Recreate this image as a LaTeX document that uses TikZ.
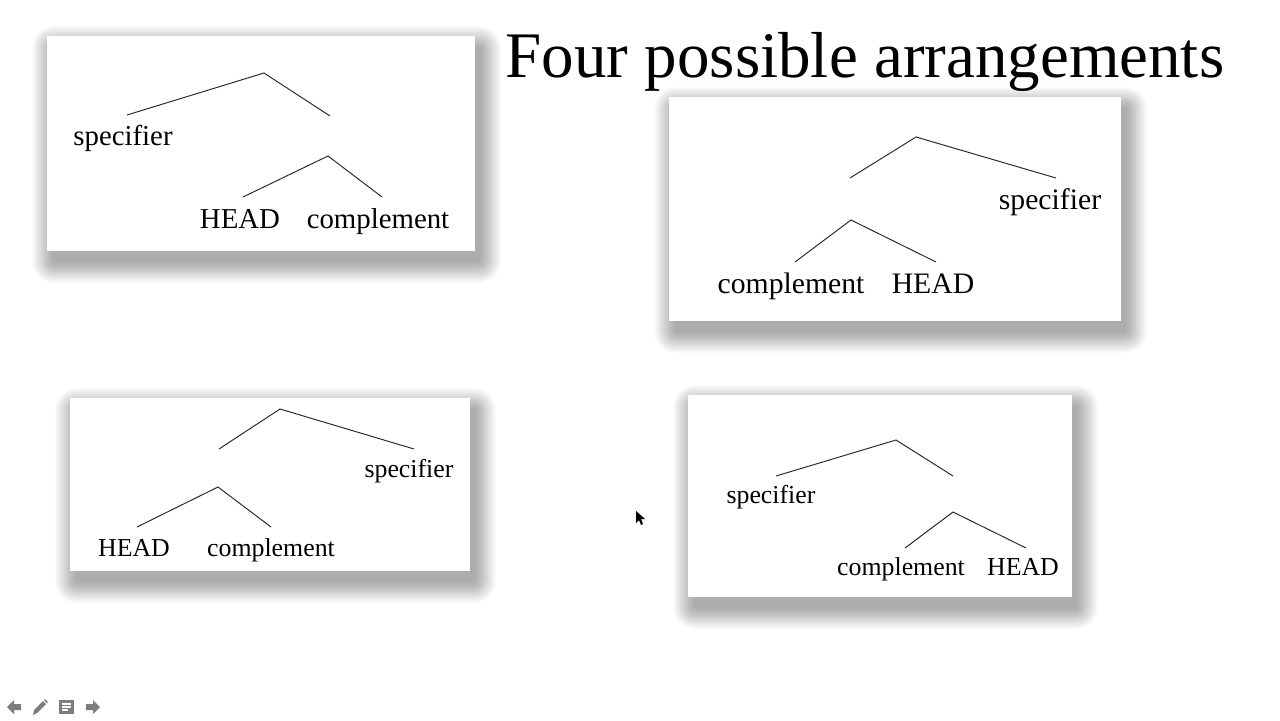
\documentclass[tikz,border=0pt]{standalone}
\usepackage{fontspec}
\setmainfont{Liberation Serif}
\definecolor{iconfill}{RGB}{125,125,125}
\definecolor{linecolor}{RGB}{40,40,40}
\tikzset{
    panel/.style={fill=white, draw=none},
    shadowlayer/.style={fill=black, draw=none, fill opacity=0.015},
    branch/.style={draw=linecolor, line width=0.55pt},
    word/.style={anchor=base, inner sep=0pt, text=black},
    bigword/.style={word, font=\fontsize{16.4}{18}\selectfont},
    midword/.style={word, font=\fontsize{16.9}{18}\selectfont},
    smallword/.style={word, font=\fontsize{14.7}{17}\selectfont},
    title/.style={anchor=base, inner sep=0pt, font=\fontsize{37}{40}\selectfont},
    icon/.style={fill=iconfill, draw=none}
}

\begin{document}
\begin{tikzpicture}[x=0.02cm, y=-0.02cm]
\useasboundingbox[fill=white] (0,0) rectangle (1280,720);

% Title
\node[title] (heading) at (865,77) {Four possible arrangements};

% Panels with soft shadows
\foreach \xa/\ya/\xb/\yb in {47/36/475/251, 669/97/1121/321, 70/398/470/571, 688/395/1072/597} {
    \foreach \r in {1,...,22} {
        \pgfmathsetmacro\rad{\r*0.567}
        \path[shadowlayer, rounded corners=\rad pt]
            (\xa-\r+7,\ya-\r+12) rectangle (\xb+\r+4,\yb+\r+10);
    }
    \path[panel] (\xa,\ya) rectangle (\xb,\yb);
}

% Tree A: specifier -- HEAD complement
\coordinate (aroot) at (264,73);
\coordinate (aspec) at (127,115);
\coordinate (abar) at (330,116);
\coordinate (asub) at (328,156);
\coordinate (ahead) at (243,197);
\coordinate (acomp) at (382,197);
\node[bigword] (aspeclbl) at (123,145) {specifier};
\node[bigword] (aheadlbl) at (240,228) {HEAD};
\node[bigword] (acomplbl) at (378,228) {complement};
\draw[branch] (aspec) -- (aroot) -- (abar);
\draw[branch] (ahead) -- (asub) -- (acomp);

% Tree B: complement HEAD -- specifier
\coordinate (broot) at (916,137);
\coordinate (bbar) at (850,178);
\coordinate (bspec) at (1056,178);
\coordinate (bsub) at (851,220);
\coordinate (bcomp) at (795,262);
\coordinate (bhead) at (936,262);
\node[midword] (bspeclbl) at (1050,209) {specifier};
\node[midword] (bcomplbl) at (791,293) {complement};
\node[midword] (bheadlbl) at (933,293) {HEAD};
\draw[branch] (bbar) -- (broot) -- (bspec);
\draw[branch] (bcomp) -- (bsub) -- (bhead);

% Tree C: HEAD complement -- specifier
\coordinate (croot) at (280,409);
\coordinate (cbar) at (219,449);
\coordinate (cspec) at (414,449);
\coordinate (csub) at (218,487);
\coordinate (chead) at (137,527);
\coordinate (ccomp) at (271,527);
\node[smallword] (cspeclbl) at (409,477) {specifier};
\node[smallword] (cheadlbl) at (134,556) {HEAD};
\node[smallword] (ccomplbl) at (271,556) {complement};
\draw[branch] (cbar) -- (croot) -- (cspec);
\draw[branch] (chead) -- (csub) -- (ccomp);

% Tree D: specifier -- complement HEAD
\coordinate (droot) at (896,440);
\coordinate (dspec) at (776,476);
\coordinate (dbar) at (953,476);
\coordinate (dsub) at (953,512);
\coordinate (dcomp) at (905,548);
\coordinate (dhead) at (1026,548);
\node[smallword] (dspeclbl) at (771,503) {specifier};
\node[smallword] (dcomplbl) at (901,575) {complement};
\node[smallword] (dheadlbl) at (1023,575) {HEAD};
\draw[branch] (dspec) -- (droot) -- (dbar);
\draw[branch] (dcomp) -- (dsub) -- (dhead);

% Mouse pointer
\path[fill=black] (636,511) -- (636,523) -- (639,520) -- (641,525) -- (643,524) -- (641,519) -- (645,519) -- cycle;

% Slide controls
\path[icon] (7,707) -- (14,700) -- (14,704) -- (21,704) -- (21,710) -- (14,710) -- (14,714) -- cycle;
\path[icon] (33,715) -- (34,710) -- (43,701) -- (46,704) -- (37,713) -- cycle;
\path[icon] (44,700) -- (45,699) -- (48,702) -- (47,703) -- cycle;
\path[icon] (59,700) rectangle (74,714);
\draw[white, line width=0.9pt] (62,704) -- (71,704) (62,707) -- (71,707) (62,710) -- (68,710);
\path[icon] (100,707) -- (93,700) -- (93,704) -- (86,704) -- (86,710) -- (93,710) -- (93,714) -- cycle;

\end{tikzpicture}
\end{document}
